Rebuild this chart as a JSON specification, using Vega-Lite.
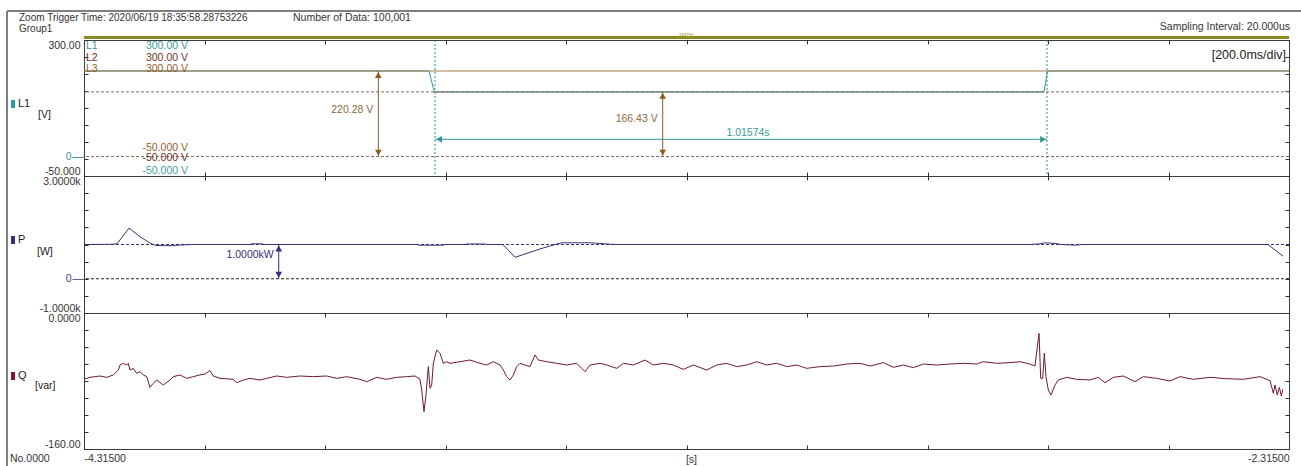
{
  "$schema": "https://vega.github.io/schema/vega-lite/v6.json",
  "background": "white",
  "padding": {"left": 5, "top": 9, "right": 0, "bottom": 0},
  "spacing": 0,
  "bounds": "flush",
  "config": {
    "view": {"stroke": "#3c3c3c", "strokeWidth": 1, "fill": "white"},
    "axis": {"labelFont": "Liberation Sans", "labelFontSize": 10.5, "labelColor": "#333", "tickColor": "#333", "tickWidth": 1},
    "text": {"font": "Liberation Sans", "fontSize": 10.5, "color": "#333", "baseline": "middle"}
  },
  "datasets": {
    "volt": [
      {"ch": "L1", "t": -4.315, "v": 220.28}, {"ch": "L1", "t": -3.7424, "v": 220.28}, {"ch": "L1", "t": -3.7336, "v": 166.43},
      {"ch": "L1", "t": -2.7216, "v": 166.43}, {"ch": "L1", "t": -2.7158, "v": 220.28}, {"ch": "L1", "t": -2.315, "v": 220.28},
      {"ch": "L2", "t": -3.7336, "v": 166.43}, {"ch": "L2", "t": -2.7216, "v": 166.43},
      {"ch": "L3", "t": -4.315, "v": 220.28}, {"ch": "L3", "t": -2.315, "v": 220.28}
    ],
    "power": [
      {"t": -4.315, "v": 1000}, {"t": -4.2718, "v": 1005}, {"t": -4.2602, "v": 1020}, {"t": -4.2403, "v": 1480},
      {"t": -4.2221, "v": 1230}, {"t": -4.2055, "v": 1040}, {"t": -4.1955, "v": 970}, {"t": -4.1689, "v": 965},
      {"t": -4.1557, "v": 985}, {"t": -4.1357, "v": 1000}, {"t": -4.0395, "v": 1000}, {"t": -4.0362, "v": 1020},
      {"t": -4.0196, "v": 1020}, {"t": -4.0163, "v": 1000}, {"t": -3.7623, "v": 1000}, {"t": -3.759, "v": 980},
      {"t": -3.7191, "v": 980}, {"t": -3.7158, "v": 1000}, {"t": -3.6826, "v": 1000}, {"t": -3.6793, "v": 1015},
      {"t": -3.6494, "v": 1015}, {"t": -3.6461, "v": 1000}, {"t": -3.6196, "v": 1000}, {"t": -3.5996, "v": 626},
      {"t": -3.5581, "v": 870}, {"t": -3.5332, "v": 1000}, {"t": -3.5216, "v": 1050}, {"t": -3.4752, "v": 1050},
      {"t": -3.4585, "v": 1030}, {"t": -3.4337, "v": 1000}, {"t": -2.7449, "v": 1000}, {"t": -2.7283, "v": 1020},
      {"t": -2.72, "v": 1050}, {"t": -2.7034, "v": 1030}, {"t": -2.6917, "v": 1000}, {"t": -2.6702, "v": 980},
      {"t": -2.6585, "v": 1000}, {"t": -2.3498, "v": 1000}, {"t": -2.3249, "v": 660}
    ],
    "react": [
      {"t": -4.315, "v": -78}, {"t": -4.305, "v": -75.7}, {"t": -4.2884, "v": -74.1}, {"t": -4.2773, "v": -75.7},
      {"t": -4.2664, "v": -72.9}, {"t": -4.2581, "v": -67.1}, {"t": -4.2552, "v": -61.2}, {"t": -4.2498, "v": -59.2},
      {"t": -4.2441, "v": -61.2}, {"t": -4.2415, "v": -59.2}, {"t": -4.2387, "v": -67.1}, {"t": -4.2332, "v": -65.1},
      {"t": -4.2275, "v": -71}, {"t": -4.2221, "v": -69}, {"t": -4.2166, "v": -72.9}, {"t": -4.2109, "v": -74.9},
      {"t": -4.2055, "v": -87.5}, {"t": -4.2, "v": -82.7}, {"t": -4.1943, "v": -78.8}, {"t": -4.1834, "v": -84.7},
      {"t": -4.1723, "v": -78.8}, {"t": -4.1668, "v": -74.9}, {"t": -4.1557, "v": -72.9}, {"t": -4.1445, "v": -76.9},
      {"t": -4.1336, "v": -74.9}, {"t": -4.1225, "v": -72.9}, {"t": -4.1142, "v": -71.8}, {"t": -4.1059, "v": -67.8},
      {"t": -4.1004, "v": -74.1}, {"t": -4.0893, "v": -76.9}, {"t": -4.0672, "v": -78}, {"t": -4.0615, "v": -82},
      {"t": -4.0506, "v": -78.8}, {"t": -4.0395, "v": -76.9}, {"t": -4.0229, "v": -78.8}, {"t": -4.0118, "v": -76.9},
      {"t": -3.9952, "v": -74.1}, {"t": -3.9786, "v": -75.7}, {"t": -3.9565, "v": -74.1}, {"t": -3.9344, "v": -74.9},
      {"t": -3.9122, "v": -74.1}, {"t": -3.8956, "v": -76.9}, {"t": -3.879, "v": -74.9}, {"t": -3.8569, "v": -78},
      {"t": -3.8458, "v": -80.8}, {"t": -3.8292, "v": -75.7}, {"t": -3.8126, "v": -78}, {"t": -3.796, "v": -75.7},
      {"t": -3.7794, "v": -74.9}, {"t": -3.7656, "v": -74.1}, {"t": -3.7573, "v": -78}, {"t": -3.7545, "v": -90.6},
      {"t": -3.7507, "v": -116.1}, {"t": -3.7474, "v": -96.5}, {"t": -3.7435, "v": -63.1}, {"t": -3.7407, "v": -88.6},
      {"t": -3.7379, "v": -84.7}, {"t": -3.7352, "v": -59.2}, {"t": -3.7296, "v": -43.5}, {"t": -3.7241, "v": -47.4},
      {"t": -3.7186, "v": -59.2}, {"t": -3.713, "v": -57.3}, {"t": -3.7075, "v": -59.2}, {"t": -3.6909, "v": -57.3},
      {"t": -3.6743, "v": -55.3}, {"t": -3.6577, "v": -59.2}, {"t": -3.6466, "v": -61.2}, {"t": -3.6357, "v": -57.3},
      {"t": -3.6245, "v": -61.2}, {"t": -3.619, "v": -67.1}, {"t": -3.6134, "v": -74.9}, {"t": -3.6079, "v": -78.8},
      {"t": -3.6024, "v": -72.9}, {"t": -3.5968, "v": -63.1}, {"t": -3.5913, "v": -59.2}, {"t": -3.583, "v": -61.2},
      {"t": -3.5747, "v": -63.1}, {"t": -3.5664, "v": -49.4}, {"t": -3.5609, "v": -55.3}, {"t": -3.547, "v": -57.3},
      {"t": -3.5304, "v": -59.2}, {"t": -3.5138, "v": -61.2}, {"t": -3.4972, "v": -59.2}, {"t": -3.4834, "v": -69},
      {"t": -3.4751, "v": -61.2}, {"t": -3.4585, "v": -59.2}, {"t": -3.4474, "v": -61.2}, {"t": -3.4308, "v": -65.1},
      {"t": -3.4199, "v": -59.2}, {"t": -3.4033, "v": -61.2}, {"t": -3.3839, "v": -55.3}, {"t": -3.3701, "v": -61.2},
      {"t": -3.3535, "v": -59.2}, {"t": -3.3369, "v": -61.2}, {"t": -3.3203, "v": -66.3}, {"t": -3.3037, "v": -61.2},
      {"t": -3.2815, "v": -67.1}, {"t": -3.2649, "v": -61.2}, {"t": -3.2483, "v": -59.2}, {"t": -3.2317, "v": -63.1},
      {"t": -3.2151, "v": -61.2}, {"t": -3.1985, "v": -57.3}, {"t": -3.1819, "v": -61.2}, {"t": -3.1653, "v": -59.2},
      {"t": -3.1487, "v": -63.1}, {"t": -3.1321, "v": -61.2}, {"t": -3.1155, "v": -65.1}, {"t": -3.0934, "v": -63.1},
      {"t": -3.0713, "v": -62.4}, {"t": -3.0491, "v": -60}, {"t": -3.027, "v": -59.2}, {"t": -3.0104, "v": -62.4},
      {"t": -2.9883, "v": -58.4}, {"t": -2.9717, "v": -63.9}, {"t": -2.9551, "v": -61.2}, {"t": -2.9385, "v": -64.3},
      {"t": -2.9219, "v": -60}, {"t": -2.8997, "v": -61.2}, {"t": -2.8776, "v": -60}, {"t": -2.8556, "v": -59.2},
      {"t": -2.8334, "v": -60}, {"t": -2.8224, "v": -57.3}, {"t": -2.8001, "v": -59.2}, {"t": -2.7781, "v": -58.4},
      {"t": -2.7615, "v": -57.3}, {"t": -2.7449, "v": -60}, {"t": -2.7366, "v": -62.4}, {"t": -2.7327, "v": -39.6},
      {"t": -2.7299, "v": -23.9}, {"t": -2.7271, "v": -76.9}, {"t": -2.7238, "v": -76.9}, {"t": -2.7211, "v": -47.4},
      {"t": -2.7183, "v": -74.9}, {"t": -2.7145, "v": -90.6}, {"t": -2.71, "v": -96.5}, {"t": -2.7034, "v": -84.7},
      {"t": -2.6979, "v": -78.8}, {"t": -2.684, "v": -75.7}, {"t": -2.6674, "v": -78}, {"t": -2.6453, "v": -78.8},
      {"t": -2.6315, "v": -75.7}, {"t": -2.6204, "v": -82}, {"t": -2.6066, "v": -75.7}, {"t": -2.59, "v": -74.1},
      {"t": -2.5706, "v": -80.8}, {"t": -2.5568, "v": -74.9}, {"t": -2.5346, "v": -76.9}, {"t": -2.5125, "v": -80},
      {"t": -2.4959, "v": -74.9}, {"t": -2.4738, "v": -78}, {"t": -2.4461, "v": -75.7}, {"t": -2.4184, "v": -77.3},
      {"t": -2.3908, "v": -78}, {"t": -2.3631, "v": -74.9}, {"t": -2.3465, "v": -79.6}, {"t": -2.341, "v": -94.5},
      {"t": -2.3382, "v": -84.7}, {"t": -2.3344, "v": -96.5}, {"t": -2.331, "v": -87.5}, {"t": -2.3277, "v": -97.6},
      {"t": -2.3254, "v": -89.8}
    ]
  },
  "vconcat": [
    {
      "width": 1205,
      "height": 136,
      "resolve": {"axis": {"x": "independent", "y": "independent"}},
      "layer": [
        {
          "data": {"values": [{}]},
          "mark": {"type": "rule", "color": "#7f7f7f", "strokeWidth": 2, "xOffset": -77, "yOffset": -29, "y2Offset": 300},
          "encoding": {
            "x": {"datum": -4.315, "type": "quantitative", "scale": {"domain": [-4.315, -2.315], "nice": false, "zero": false}, "axis": null},
            "y": {"datum": 300, "type": "quantitative", "scale": {"domain": [-50, 300], "nice": false, "zero": false}, "axis": null},
            "y2": {"datum": -50}
          }
        },
        {
          "data": {"values": [{}]},
          "mark": {"type": "rule", "color": "#7f7f7f", "strokeWidth": 2, "xOffset": -77, "x2Offset": 14, "yOffset": -29},
          "encoding": {
            "x": {"datum": -4.315, "type": "quantitative", "scale": {"domain": [-4.315, -2.315], "nice": false, "zero": false}, "axis": null},
            "x2": {"datum": -2.315},
            "y": {"datum": 300, "type": "quantitative", "scale": {"domain": [-50, 300], "nice": false, "zero": false}, "axis": null}
          }
        },
        {
          "data": {"values": [{}]},
          "mark": {"type": "rule", "color": "#8c8a1e", "strokeWidth": 3, "yOffset": -2.5},
          "encoding": {
            "x": {"datum": -4.315, "type": "quantitative", "scale": {"domain": [-4.315, -2.315], "nice": false, "zero": false}, "axis": null},
            "x2": {"datum": -2.315},
            "y": {"datum": 300, "type": "quantitative", "scale": {"domain": [-50, 300], "nice": false, "zero": false}, "axis": null}
          }
        },
        {
          "data": {"values": [{"v": 0}, {"v": 166.43}]},
          "mark": {"type": "rule", "color": "#7d6d55", "strokeDash": [3, 2], "strokeWidth": 1},
          "encoding": {
            "y": {"field": "v", "type": "quantitative", "scale": {"domain": [-50, 300], "nice": false, "zero": false}, "axis": null}
          }
        },
        {
          "data": {"name": "volt"},
          "transform": [{"filter": "datum.ch === 'L1'"}],
          "mark": {"type": "line", "color": "#2e9a9a", "strokeWidth": 1},
          "encoding": {
            "x": {"field": "t", "type": "quantitative", "scale": {"domain": [-4.315, -2.315], "nice": false, "zero": false},
              "axis": {"orient": "top", "values": [-4.315, -4.115, -3.915, -3.715, -3.515, -3.315, -3.115, -2.915, -2.715, -2.515, -2.315], "offset": -4, "tickSize": 4, "labels": false, "domain": false, "grid": false, "title": null}},
            "y": {"field": "v", "type": "quantitative", "scale": {"domain": [-50, 300], "nice": false, "zero": false},
              "axis": {"orient": "left", "values": [-50, 0, 300], "labelExpr": "datum.value == 300 ? '300.00' : datum.value == 0 ? '0' : '-50.000'", "labelFlush": true, "domain": false, "grid": false, "title": null, "tickSize": 12,
                "tickColor": {"condition": {"test": "datum.value === 0", "value": "#4a9e9e"}, "value": "transparent"},
                "labelPadding": {"condition": {"test": "datum.value === 0", "value": 1}, "value": -8},
                "labelColor": {"condition": {"test": "datum.value === 0", "value": "#3a9a9a"}, "value": "#333"}}}
          }
        },
        {
          "data": {"name": "volt"},
          "transform": [{"filter": "datum.ch === 'L2'"}],
          "mark": {"type": "line", "color": "#8c7d6a", "strokeWidth": 1},
          "encoding": {
            "x": {"field": "t", "type": "quantitative", "scale": {"domain": [-4.315, -2.315], "nice": false, "zero": false},
              "axis": {"orient": "bottom", "values": [-4.315, -4.115, -3.915, -3.715, -3.515, -3.315, -3.115, -2.915, -2.715, -2.515, -2.315], "offset": -4, "tickSize": 4, "labels": false, "domain": false, "grid": false, "title": null}},
            "y": {"field": "v", "type": "quantitative", "scale": {"domain": [-50, 300], "nice": false, "zero": false},
              "axis": {"orient": "left", "values": [-50, -6.25, 37.5, 81.25, 125, 168.75, 212.5, 256.25, 300], "offset": -4, "tickSize": 4, "labels": false, "domain": false, "grid": false, "title": null}}
          }
        },
        {
          "data": {"name": "volt"},
          "transform": [{"filter": "datum.ch === 'L3'"}],
          "mark": {"type": "line", "color": "#a0784a", "strokeWidth": 1},
          "encoding": {
            "x": {"field": "t", "type": "quantitative", "scale": {"domain": [-4.315, -2.315], "nice": false, "zero": false}, "axis": null},
            "y": {"field": "v", "type": "quantitative", "scale": {"domain": [-50, 300], "nice": false, "zero": false},
              "axis": {"orient": "right", "values": [-50, -6.25, 37.5, 81.25, 125, 168.75, 212.5, 256.25, 300], "offset": -4, "tickSize": 4, "labels": false, "domain": false, "grid": false, "title": null}}
          }
        },
        {
          "data": {"values": [{"t": -3.7324}, {"t": -2.71666}]},
          "mark": {"type": "rule", "color": "#2a8c8c", "strokeDash": [2, 2], "strokeWidth": 1},
          "encoding": {
            "x": {"field": "t", "type": "quantitative", "scale": {"domain": [-4.315, -2.315], "nice": false, "zero": false}, "axis": null}
          }
        },
        {
          "data": {"values": [{"t1": -3.7324, "t2": -2.71666, "v": 44.4}]},
          "layer": [
            {
              "mark": {"type": "rule", "color": "#2e9696", "strokeWidth": 1},
              "encoding": {
                "x": {"field": "t1", "type": "quantitative", "scale": {"domain": [-4.315, -2.315], "nice": false, "zero": false}, "axis": null},
                "x2": {"field": "t2"},
                "y": {"field": "v", "type": "quantitative", "scale": {"domain": [-50, 300], "nice": false, "zero": false}, "axis": null}
              }
            },
            {
              "mark": {"type": "point", "shape": "triangle-left", "filled": true, "size": 45, "color": "#2e9696", "opacity": 1, "xOffset": 4},
              "encoding": {
                "x": {"field": "t1", "type": "quantitative", "scale": {"domain": [-4.315, -2.315], "nice": false, "zero": false}, "axis": null},
                "y": {"field": "v", "type": "quantitative", "scale": {"domain": [-50, 300], "nice": false, "zero": false}, "axis": null}
              }
            },
            {
              "mark": {"type": "point", "shape": "triangle-right", "filled": true, "size": 45, "color": "#2e9696", "opacity": 1, "xOffset": -4},
              "encoding": {
                "x": {"field": "t2", "type": "quantitative", "scale": {"domain": [-4.315, -2.315], "nice": false, "zero": false}, "axis": null},
                "y": {"field": "v", "type": "quantitative", "scale": {"domain": [-50, 300], "nice": false, "zero": false}, "axis": null}
              }
            }
          ]
        },
        {
          "data": {"values": [{"t": -3.8265, "v": 220.28}, {"t": -3.3545, "v": 166.43}]},
          "layer": [
            {
              "mark": {"type": "rule", "color": "#8b5a1e", "strokeWidth": 1},
              "encoding": {
                "x": {"field": "t", "type": "quantitative", "scale": {"domain": [-4.315, -2.315], "nice": false, "zero": false}, "axis": null},
                "y": {"field": "v", "type": "quantitative", "scale": {"domain": [-50, 300], "nice": false, "zero": false}, "axis": null},
                "y2": {"datum": 0}
              }
            },
            {
              "mark": {"type": "point", "shape": "triangle-up", "filled": true, "size": 45, "color": "#8b5a1e", "opacity": 1, "yOffset": 4},
              "encoding": {
                "x": {"field": "t", "type": "quantitative", "scale": {"domain": [-4.315, -2.315], "nice": false, "zero": false}, "axis": null},
                "y": {"field": "v", "type": "quantitative", "scale": {"domain": [-50, 300], "nice": false, "zero": false}, "axis": null}
              }
            },
            {
              "mark": {"type": "point", "shape": "triangle-down", "filled": true, "size": 45, "color": "#8b5a1e", "opacity": 1, "yOffset": -4},
              "encoding": {
                "x": {"field": "t", "type": "quantitative", "scale": {"domain": [-4.315, -2.315], "nice": false, "zero": false}, "axis": null},
                "y": {"datum": 0, "type": "quantitative", "scale": {"domain": [-50, 300], "nice": false, "zero": false}, "axis": null}
              }
            }
          ]
        },
        {
          "data": {"values": [{"label": "220.28 V", "t": -3.8265, "v": 119.8}, {"label": "166.43 V", "t": -3.3545, "v": 96.7}]},
          "mark": {"type": "text", "align": "right", "dx": -5, "color": "#8a6a3f"},
          "encoding": {
            "x": {"field": "t", "type": "quantitative", "scale": {"domain": [-4.315, -2.315], "nice": false, "zero": false}, "axis": null},
            "y": {"field": "v", "type": "quantitative", "scale": {"domain": [-50, 300], "nice": false, "zero": false}, "axis": null},
            "text": {"field": "label"}
          }
        },
        {
          "data": {"values": [{"label": "1.01574s", "t": -3.2129, "v": 44.4}]},
          "mark": {"type": "text", "align": "center", "dy": -6, "color": "#3a9a9a"},
          "encoding": {
            "x": {"field": "t", "type": "quantitative", "scale": {"domain": [-4.315, -2.315], "nice": false, "zero": false}, "axis": null},
            "y": {"field": "v", "type": "quantitative", "scale": {"domain": [-50, 300], "nice": false, "zero": false}, "axis": null},
            "text": {"field": "label"}
          }
        },
        {
          "data": {"values": [{"label": "L1", "ch": "L1", "v": 284.5}, {"label": "L2", "ch": "L2", "v": 254.9}, {"label": "L3", "ch": "L3", "v": 225.3}]},
          "mark": {"type": "text", "align": "left", "dx": 2},
          "encoding": {
            "x": {"datum": -4.315, "type": "quantitative", "scale": {"domain": [-4.315, -2.315], "nice": false, "zero": false}, "axis": null},
            "y": {"field": "v", "type": "quantitative", "scale": {"domain": [-50, 300], "nice": false, "zero": false}, "axis": null},
            "text": {"field": "label"},
            "color": {"field": "ch", "type": "nominal", "scale": {"domain": ["L1", "L2", "L3"], "range": ["#3a9c9c", "#6e3325", "#95602e"]}, "legend": null}
          }
        },
        {
          "data": {"values": [
            {"label": "300.00 V", "ch": "L1", "v": 284.5}, {"label": "300.00 V", "ch": "L2", "v": 254.9}, {"label": "300.00 V", "ch": "L3", "v": 225.3},
            {"label": "-50.000 V", "ch": "L3", "v": 23.3}, {"label": "-50.000 V", "ch": "L2", "v": -2.4}, {"label": "-50.000 V", "ch": "L1", "v": -38.4}
          ]},
          "mark": {"type": "text", "align": "right"},
          "encoding": {
            "x": {"datum": -4.1424, "type": "quantitative", "scale": {"domain": [-4.315, -2.315], "nice": false, "zero": false}, "axis": null},
            "y": {"field": "v", "type": "quantitative", "scale": {"domain": [-50, 300], "nice": false, "zero": false}, "axis": null},
            "text": {"field": "label"},
            "color": {"field": "ch", "type": "nominal", "scale": {"domain": ["L1", "L2", "L3"], "range": ["#3a9c9c", "#6e3325", "#95602e"]}, "legend": null}
          }
        },
        {
          "data": {"values": [{"label": "Zoom Trigger Time: 2020/06/19 18:35:58.28753226"}]},
          "mark": {"type": "text", "align": "left", "dx": -65, "dy": -22.5, "fontSize": 10},
          "encoding": {
            "x": {"datum": -4.315, "type": "quantitative", "scale": {"domain": [-4.315, -2.315], "nice": false, "zero": false}, "axis": null},
            "y": {"datum": 300, "type": "quantitative", "scale": {"domain": [-50, 300], "nice": false, "zero": false}, "axis": null},
            "text": {"field": "label"}
          }
        },
        {
          "data": {"values": [{"label": "Group1"}]},
          "mark": {"type": "text", "align": "left", "dx": -65, "dy": -11.5, "fontSize": 10},
          "encoding": {
            "x": {"datum": -4.315, "type": "quantitative", "scale": {"domain": [-4.315, -2.315], "nice": false, "zero": false}, "axis": null},
            "y": {"datum": 300, "type": "quantitative", "scale": {"domain": [-50, 300], "nice": false, "zero": false}, "axis": null},
            "text": {"field": "label"}
          }
        },
        {
          "data": {"values": [{"label": "Number of Data: 100,001"}]},
          "mark": {"type": "text", "align": "left", "dx": 209, "dy": -22, "fontSize": 10.5},
          "encoding": {
            "x": {"datum": -4.315, "type": "quantitative", "scale": {"domain": [-4.315, -2.315], "nice": false, "zero": false}, "axis": null},
            "y": {"datum": 300, "type": "quantitative", "scale": {"domain": [-50, 300], "nice": false, "zero": false}, "axis": null},
            "text": {"field": "label"}
          }
        },
        {
          "data": {"values": [{"label": "Sampling Interval:  20.000us"}]},
          "mark": {"type": "text", "align": "right", "dx": 1, "dy": -13},
          "encoding": {
            "x": {"datum": -2.315, "type": "quantitative", "scale": {"domain": [-4.315, -2.315], "nice": false, "zero": false}, "axis": null},
            "y": {"datum": 300, "type": "quantitative", "scale": {"domain": [-50, 300], "nice": false, "zero": false}, "axis": null},
            "text": {"field": "label"}
          }
        },
        {
          "data": {"values": [{"label": "[200.0ms/div]"}]},
          "mark": {"type": "text", "align": "right", "dx": -3, "dy": 15, "fontSize": 12.5, "color": "#222"},
          "encoding": {
            "x": {"datum": -2.315, "type": "quantitative", "scale": {"domain": [-4.315, -2.315], "nice": false, "zero": false}, "axis": null},
            "y": {"datum": 300, "type": "quantitative", "scale": {"domain": [-50, 300], "nice": false, "zero": false}, "axis": null},
            "text": {"field": "label"}
          }
        },
        {
          "data": {"values": [{"label": "MATH"}]},
          "mark": {"type": "text", "align": "center", "dy": -5, "fontSize": 5, "color": "#9a9a40"},
          "encoding": {
            "x": {"datum": -3.3158, "type": "quantitative", "scale": {"domain": [-4.315, -2.315], "nice": false, "zero": false}, "axis": null},
            "y": {"datum": 300, "type": "quantitative", "scale": {"domain": [-50, 300], "nice": false, "zero": false}, "axis": null},
            "text": {"field": "label"}
          }
        },
        {
          "data": {"values": [{"label": "L1"}]},
          "mark": {"type": "text", "align": "left", "dx": -66, "dy": 64, "fontSize": 11, "color": "#222"},
          "encoding": {
            "x": {"datum": -4.315, "type": "quantitative", "scale": {"domain": [-4.315, -2.315], "nice": false, "zero": false}, "axis": null},
            "y": {"datum": 300, "type": "quantitative", "scale": {"domain": [-50, 300], "nice": false, "zero": false}, "axis": null},
            "text": {"field": "label"}
          }
        },
        {
          "data": {"values": [{"label": "[V]"}]},
          "mark": {"type": "text", "align": "left", "dx": -46, "dy": 75, "color": "#222"},
          "encoding": {
            "x": {"datum": -4.315, "type": "quantitative", "scale": {"domain": [-4.315, -2.315], "nice": false, "zero": false}, "axis": null},
            "y": {"datum": 300, "type": "quantitative", "scale": {"domain": [-50, 300], "nice": false, "zero": false}, "axis": null},
            "text": {"field": "label"}
          }
        },
        {
          "data": {"values": [{}]},
          "mark": {"type": "rect", "color": "#2e9a9a", "xOffset": -73, "x2Offset": -69, "yOffset": 60, "y2Offset": 68},
          "encoding": {
            "x": {"datum": -4.315, "type": "quantitative", "scale": {"domain": [-4.315, -2.315], "nice": false, "zero": false}, "axis": null},
            "x2": {"datum": -4.315},
            "y": {"datum": 300, "type": "quantitative", "scale": {"domain": [-50, 300], "nice": false, "zero": false}, "axis": null},
            "y2": {"datum": 300}
          }
        }
      ]
    },
    {
      "width": 1205,
      "height": 137,
      "resolve": {"axis": {"x": "independent", "y": "independent"}},
      "layer": [
        {
          "data": {"values": [{}]},
          "mark": {"type": "rule", "color": "#222", "strokeDash": [3, 2], "strokeWidth": 1},
          "encoding": {
            "y": {"datum": 0, "type": "quantitative", "scale": {"domain": [-1000, 3000], "nice": false, "zero": false}, "axis": null}
          }
        },
        {
          "data": {"values": [{}]},
          "mark": {"type": "rule", "color": "#3c2f78", "strokeDash": [3, 2], "strokeWidth": 1},
          "encoding": {
            "y": {"datum": 1000, "type": "quantitative", "scale": {"domain": [-1000, 3000], "nice": false, "zero": false}, "axis": null}
          }
        },
        {
          "data": {"name": "power"},
          "mark": {"type": "line", "color": "#3c2f78", "strokeWidth": 1},
          "encoding": {
            "x": {"field": "t", "type": "quantitative", "scale": {"domain": [-4.315, -2.315], "nice": false, "zero": false},
              "axis": {"orient": "top", "values": [-4.315, -4.115, -3.915, -3.715, -3.515, -3.315, -3.115, -2.915, -2.715, -2.515, -2.315], "offset": -4, "tickSize": 4, "labels": false, "domain": false, "grid": false, "title": null}},
            "y": {"field": "v", "type": "quantitative", "scale": {"domain": [-1000, 3000], "nice": false, "zero": false},
              "axis": {"orient": "left", "values": [-1000, 0, 3000], "labelExpr": "datum.value == 3000 ? '3.0000k' : datum.value == 0 ? '0' : '-1.0000k'", "labelFlush": true, "domain": false, "grid": false, "title": null, "tickSize": 12,
                "tickColor": {"condition": {"test": "datum.value === 0", "value": "#6a5a9a"}, "value": "transparent"},
                "labelPadding": {"condition": {"test": "datum.value === 0", "value": 1}, "value": -8},
                "labelColor": {"condition": {"test": "datum.value === 0", "value": "#4a3a8a"}, "value": "#333"}}}
          }
        },
        {
          "data": {"values": [{"t": -3.9918, "v": 1000}]},
          "layer": [
            {
              "mark": {"type": "rule", "color": "#3a2a80", "strokeWidth": 1},
              "encoding": {
                "x": {"field": "t", "type": "quantitative", "scale": {"domain": [-4.315, -2.315], "nice": false, "zero": false},
                  "axis": {"orient": "bottom", "values": [-4.315, -4.115, -3.915, -3.715, -3.515, -3.315, -3.115, -2.915, -2.715, -2.515, -2.315], "offset": -4, "tickSize": 4, "labels": false, "domain": false, "grid": false, "title": null}},
                "y": {"field": "v", "type": "quantitative", "scale": {"domain": [-1000, 3000], "nice": false, "zero": false},
                  "axis": {"orient": "left", "values": [-1000, -500, 0, 500, 1000, 1500, 2000, 2500, 3000], "offset": -4, "tickSize": 4, "labels": false, "domain": false, "grid": false, "title": null}},
                "y2": {"datum": 0}
              }
            },
            {
              "mark": {"type": "point", "shape": "triangle-up", "filled": true, "size": 45, "color": "#3a2a80", "opacity": 1, "yOffset": 4},
              "encoding": {
                "x": {"field": "t", "type": "quantitative", "scale": {"domain": [-4.315, -2.315], "nice": false, "zero": false}, "axis": null},
                "y": {"field": "v", "type": "quantitative", "scale": {"domain": [-1000, 3000], "nice": false, "zero": false},
                  "axis": {"orient": "right", "values": [-1000, -500, 0, 500, 1000, 1500, 2000, 2500, 3000], "offset": -4, "tickSize": 4, "labels": false, "domain": false, "grid": false, "title": null}}
              }
            },
            {
              "mark": {"type": "point", "shape": "triangle-down", "filled": true, "size": 45, "color": "#3a2a80", "opacity": 1, "yOffset": -4},
              "encoding": {
                "x": {"field": "t", "type": "quantitative", "scale": {"domain": [-4.315, -2.315], "nice": false, "zero": false}, "axis": null},
                "y": {"datum": 0, "type": "quantitative", "scale": {"domain": [-1000, 3000], "nice": false, "zero": false}, "axis": null}
              }
            }
          ]
        },
        {
          "data": {"values": [{"label": "1.0000kW", "t": -3.9918, "v": 693}]},
          "mark": {"type": "text", "align": "right", "dx": -5, "color": "#3a2a7a"},
          "encoding": {
            "x": {"field": "t", "type": "quantitative", "scale": {"domain": [-4.315, -2.315], "nice": false, "zero": false}, "axis": null},
            "y": {"field": "v", "type": "quantitative", "scale": {"domain": [-1000, 3000], "nice": false, "zero": false}, "axis": null},
            "text": {"field": "label"}
          }
        },
        {
          "data": {"values": [{"label": "P"}]},
          "mark": {"type": "text", "align": "left", "dx": -66, "dy": 64, "fontSize": 11, "color": "#222"},
          "encoding": {
            "x": {"datum": -4.315, "type": "quantitative", "scale": {"domain": [-4.315, -2.315], "nice": false, "zero": false}, "axis": null},
            "y": {"datum": 3000, "type": "quantitative", "scale": {"domain": [-1000, 3000], "nice": false, "zero": false}, "axis": null},
            "text": {"field": "label"}
          }
        },
        {
          "data": {"values": [{"label": "[W]"}]},
          "mark": {"type": "text", "align": "left", "dx": -47, "dy": 76, "color": "#222"},
          "encoding": {
            "x": {"datum": -4.315, "type": "quantitative", "scale": {"domain": [-4.315, -2.315], "nice": false, "zero": false}, "axis": null},
            "y": {"datum": 3000, "type": "quantitative", "scale": {"domain": [-1000, 3000], "nice": false, "zero": false}, "axis": null},
            "text": {"field": "label"}
          }
        },
        {
          "data": {"values": [{}]},
          "mark": {"type": "rect", "color": "#3b2a85", "xOffset": -73, "x2Offset": -69, "yOffset": 60, "y2Offset": 68},
          "encoding": {
            "x": {"datum": -4.315, "type": "quantitative", "scale": {"domain": [-4.315, -2.315], "nice": false, "zero": false}, "axis": null},
            "x2": {"datum": -4.315},
            "y": {"datum": 3000, "type": "quantitative", "scale": {"domain": [-1000, 3000], "nice": false, "zero": false}, "axis": null},
            "y2": {"datum": 3000}
          }
        }
      ]
    },
    {
      "width": 1205,
      "height": 136,
      "resolve": {"axis": {"x": "independent", "y": "independent"}},
      "layer": [
        {
          "data": {"name": "react"},
          "mark": {"type": "line", "color": "#6e1838", "strokeWidth": 1},
          "encoding": {
            "x": {"field": "t", "type": "quantitative", "scale": {"domain": [-4.315, -2.315], "nice": false, "zero": false},
              "axis": {"orient": "top", "values": [-4.315, -4.115, -3.915, -3.715, -3.515, -3.315, -3.115, -2.915, -2.715, -2.515, -2.315], "offset": -4, "tickSize": 4, "labels": false, "domain": false, "grid": false, "title": null}},
            "y": {"field": "v", "type": "quantitative", "scale": {"domain": [-160, 0], "nice": false, "zero": false},
              "axis": {"orient": "left", "values": [-160, 0], "labelExpr": "datum.value == 0 ? '0.0000' : '-160.00'", "labelFlush": true, "ticks": false, "domain": false, "grid": false, "title": null, "labelPadding": 4}}
          }
        },
        {
          "data": {"values": [{"label": "No.0000"}]},
          "mark": {"type": "text", "align": "left", "dx": -74, "dy": 10},
          "encoding": {
            "x": {"datum": -4.315, "type": "quantitative", "scale": {"domain": [-4.315, -2.315], "nice": false, "zero": false},
              "axis": {"orient": "bottom", "values": [-4.315, -4.115, -3.915, -3.715, -3.515, -3.315, -3.115, -2.915, -2.715, -2.515, -2.315], "offset": -4, "tickSize": 4, "labels": false, "domain": false, "grid": false, "title": null}},
            "y": {"datum": -160, "type": "quantitative", "scale": {"domain": [-160, 0], "nice": false, "zero": false},
              "axis": {"orient": "left", "values": [-160, -140, -120, -100, -80, -60, -40, -20, 0], "offset": -4, "tickSize": 4, "labels": false, "domain": false, "grid": false, "title": null}},
            "text": {"field": "label"}
          }
        },
        {
          "data": {"values": [{"label": "Q"}]},
          "mark": {"type": "text", "align": "left", "dx": -66, "dy": 63, "fontSize": 11, "color": "#222"},
          "encoding": {
            "x": {"datum": -4.315, "type": "quantitative", "scale": {"domain": [-4.315, -2.315], "nice": false, "zero": false},
              "axis": {"orient": "bottom", "values": [-4.315, -2.315], "labelExpr": "datum.value < -3 ? '-4.31500' : '-2.31500'", "labelFlush": true, "ticks": false, "domain": false, "grid": false, "labelPadding": 4,
                "title": "[s]", "titleFont": "Liberation Sans", "titleFontSize": 10.5, "titleFontWeight": "normal", "titleColor": "#333", "titleX": 607, "titleY": 10, "titleBaseline": "middle", "titleAlign": "center"}},
            "y": {"datum": 0, "type": "quantitative", "scale": {"domain": [-160, 0], "nice": false, "zero": false},
              "axis": {"orient": "right", "values": [-160, -140, -120, -100, -80, -60, -40, -20, 0], "offset": -4, "tickSize": 4, "labels": false, "domain": false, "grid": false, "title": null}},
            "text": {"field": "label"}
          }
        },
        {
          "data": {"values": [{"label": "[var]"}]},
          "mark": {"type": "text", "align": "left", "dx": -49, "dy": 73, "color": "#222"},
          "encoding": {
            "x": {"datum": -4.315, "type": "quantitative", "scale": {"domain": [-4.315, -2.315], "nice": false, "zero": false}, "axis": null},
            "y": {"datum": 0, "type": "quantitative", "scale": {"domain": [-160, 0], "nice": false, "zero": false}, "axis": null},
            "text": {"field": "label"}
          }
        },
        {
          "data": {"values": [{}]},
          "mark": {"type": "rect", "color": "#7a1838", "xOffset": -73, "x2Offset": -69, "yOffset": 59, "y2Offset": 67},
          "encoding": {
            "x": {"datum": -4.315, "type": "quantitative", "scale": {"domain": [-4.315, -2.315], "nice": false, "zero": false}, "axis": null},
            "x2": {"datum": -4.315},
            "y": {"datum": 0, "type": "quantitative", "scale": {"domain": [-160, 0], "nice": false, "zero": false}, "axis": null},
            "y2": {"datum": 0}
          }
        }
      ]
    }
  ]
}
